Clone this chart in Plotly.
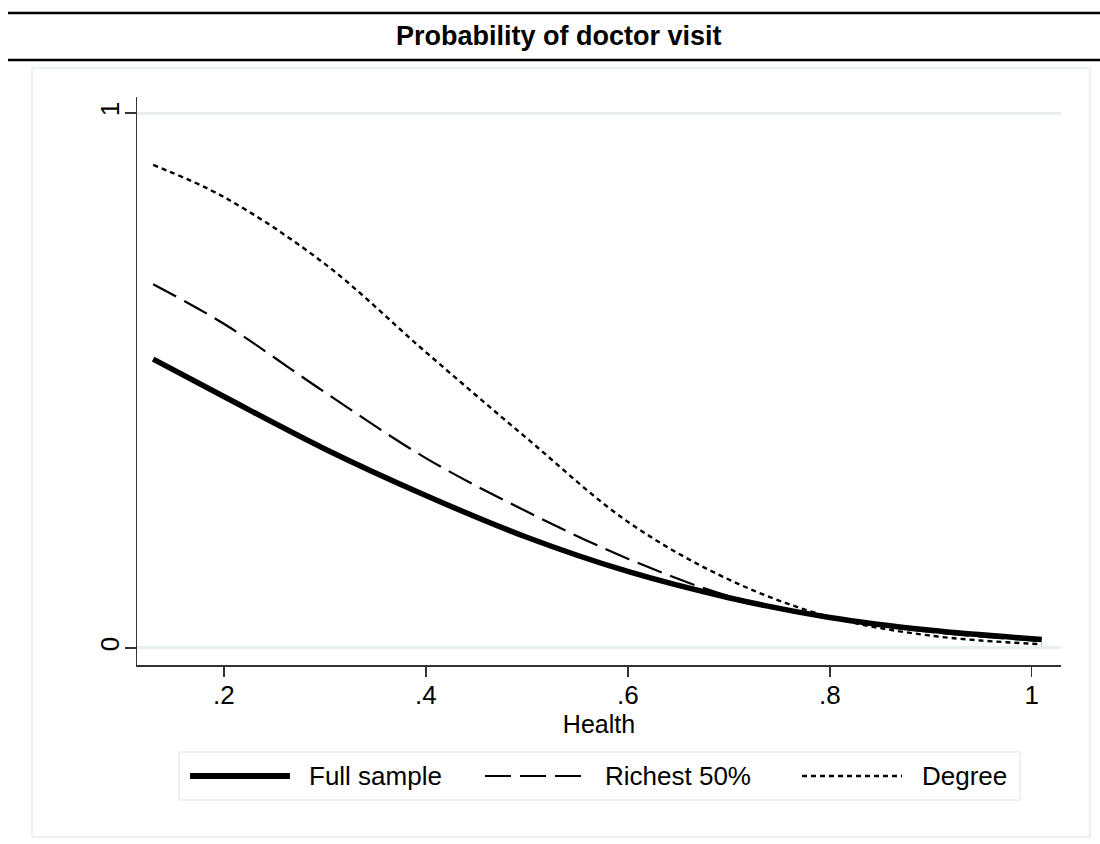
import plotly.graph_objects as go

# ---- data ----
health = [0.13, 0.20, 0.30, 0.40, 0.50, 0.60, 0.70, 0.80, 0.90, 1.01]
full_sample = [0.540, 0.470, 0.372, 0.285, 0.207, 0.143, 0.094, 0.057, 0.033, 0.016]
richest_50 = [0.680, 0.606, 0.478, 0.355, 0.255, 0.167, 0.097, 0.057, 0.030, 0.013]
degree = [0.903, 0.843, 0.718, 0.553, 0.392, 0.236, 0.128, 0.058, 0.023, 0.007]

x_ticks = [0.2, 0.4, 0.6, 0.8, 1.0]
x_tick_labels = [".2", ".4", ".6", ".8", "1"]
y_ticks = [0, 1]
y_tick_labels = ["0", "1"]

series_names = ["Full sample", "Richest 50%", "Degree"]
title_text = "Probability of doctor visit"
x_title = "Health"

# ---- layout geometry (pixels) ----
W, H = 1100, 844
L, R, T, B = 137, 1061, 97, 665
FONT = "Liberation Sans, Arial, sans-serif"
LIGHT = "#e6eef0"

def px(x):
    return (x - L) / (R - L)

def py(y):
    return (B - y) / (B - T)

styles = [
    dict(color="black", width=5.5, dash="solid"),
    dict(color="black", width=2.2, dash="26px,9px"),
    dict(color="black", width=2.4, dash="5px,4px"),
]

fig = go.Figure()
for name, ys, st in zip(series_names, [full_sample, richest_50, degree], styles):
    fig.add_trace(go.Scatter(x=health, y=ys, mode="lines", name=name,
                             line=dict(shape="spline", smoothing=1.0, **st),
                             showlegend=False, hoverinfo="skip"))

shapes = []
# outer light frame
shapes.append(dict(type="rect", xref="paper", yref="paper",
                   x0=px(32), x1=px(1090), y0=py(837), y1=py(68),
                   line=dict(color=LIGHT, width=1.5), layer="below"))
# title band lines
for yy in (13, 60):
    shapes.append(dict(type="line", xref="paper", yref="paper",
                       x0=px(8), x1=px(1100), y0=py(yy), y1=py(yy),
                       line=dict(color="black", width=2.5)))
# legend box
shapes.append(dict(type="rect", xref="paper", yref="paper",
                   x0=px(179), x1=px(1020), y0=py(800), y1=py(752),
                   line=dict(color=LIGHT, width=1.5), fillcolor="white", layer="below"))

annotations = []
leg_items = [(190, 290, 307), (485, 583, 603), (802, 902, 920)]
for (a, b, t), name, st in zip(leg_items, series_names, styles):
    shapes.append(dict(type="line", xref="paper", yref="paper",
                       x0=px(a), x1=px(b), y0=py(776), y1=py(776),
                       line=dict(color=st["color"], width=st["width"] + (0.5 if st["dash"] == "solid" else 0),
                                 dash=st["dash"])))
    annotations.append(dict(text=name, xref="paper", yref="paper",
                            x=px(t), y=py(776), xanchor="left", yanchor="middle",
                            showarrow=False, font=dict(family=FONT, size=26, color="black")))

annotations.append(dict(text="<b>" + title_text + "</b>", xref="paper", yref="paper",
                        x=px(559), y=py(36), xanchor="center", yanchor="middle",
                        showarrow=False, font=dict(family=FONT, size=27, color="black")))

fig.update_layout(
    width=W, height=H,
    margin=dict(l=L, r=W - R, t=T, b=H - B, autoexpand=False),
    paper_bgcolor="white", plot_bgcolor="white",
    font=dict(family=FONT, size=26, color="black"),
    shapes=shapes, annotations=annotations,
    showlegend=False, hovermode=False,
)
fig.update_xaxes(
    range=[0.114, 1.029], tickvals=x_ticks, ticktext=x_tick_labels,
    showline=True, linecolor="#333333", linewidth=1.5,
    ticks="outside", ticklen=10, tickwidth=1.5, tickcolor="#333333",
    showgrid=False, zeroline=False, automargin=False,
    tickfont=dict(family=FONT, size=26, color="black"),
    ticklabelstandoff=-4,
    title=dict(text=x_title, font=dict(family=FONT, size=25, color="black"), standoff=0),
)
fig.update_yaxes(
    range=[-0.0318, 1.0299], tickvals=y_ticks, ticktext=y_tick_labels,
    showline=True, linecolor="#333333", linewidth=1.5,
    ticks="outside", ticklen=11, tickwidth=1.5, tickcolor="#333333",
    showgrid=True, gridcolor=LIGHT, gridwidth=3, zeroline=False, automargin=False,
    tickangle=-90, tickfont=dict(family=FONT, size=26, color="black"),
    ticklabelstandoff=-5,
)

fig.write_html("out.html", config={"displayModeBar": False, "staticPlot": True},
               post_script="document.body.style.margin='0';document.body.style.padding='0';")
